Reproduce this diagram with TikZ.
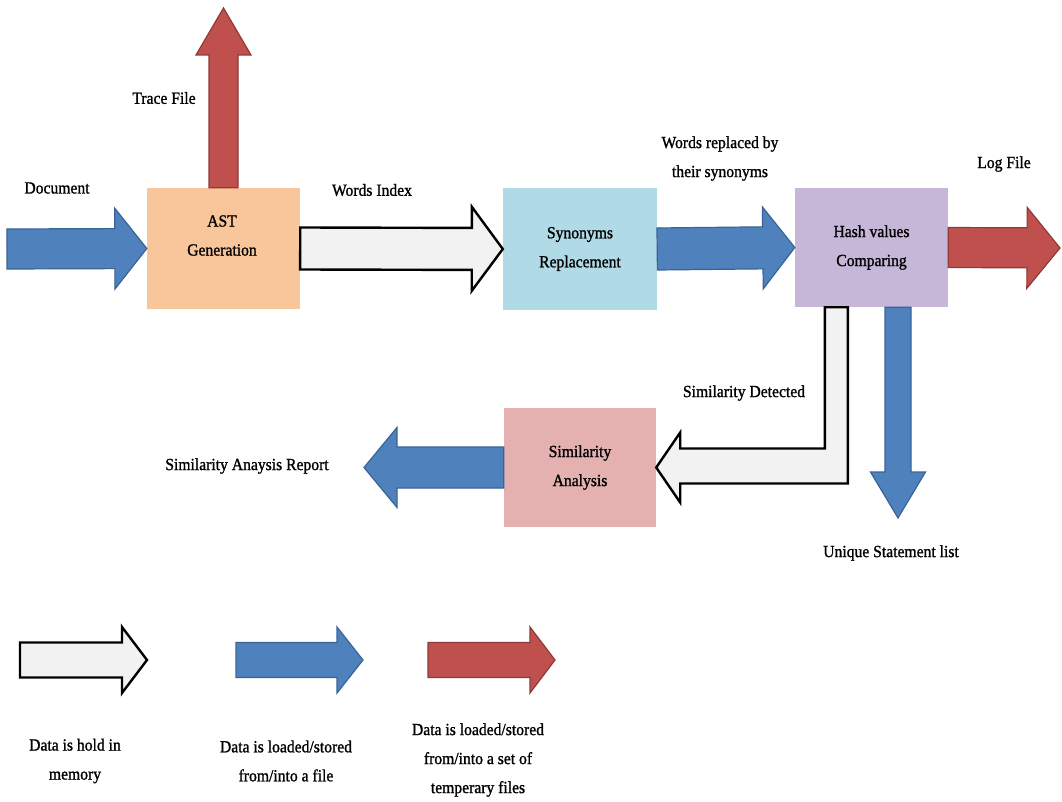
\documentclass[tikz,border=0pt]{standalone}
\usepackage{fontspec}
\setmainfont[FakeStretch=0.92, FakeBold=1.2]{Liberation Serif}
\usetikzlibrary{calc}

\definecolor{fileblue}{HTML}{4F81BD}
\definecolor{fileblueline}{HTML}{3A6496}
\definecolor{tempred}{HTML}{C0504D}
\definecolor{tempredline}{HTML}{8E3B38}
\definecolor{memfill}{HTML}{F2F2F2}
\definecolor{astfill}{HTML}{F9C59A}
\definecolor{synfill}{HTML}{B0DAE5}
\definecolor{hashfill}{HTML}{C6B7D8}
\definecolor{simfill}{HTML}{E4B1B0}

% block arrow: style, start, tip, head length, half shaft width, half head width
\newcommand\blockarrow[6]{%
  \coordinate (ba-base) at ($(#3)!#4!(#2)$);
  \draw[#1] ($(#2)!#5!90:(#3)$) -- ($(ba-base)!#5!90:(#3)$)
    -- ($(ba-base)!#6!90:(#3)$) -- (#3) -- ($(ba-base)!#6!-90:(#3)$)
    -- ($(ba-base)!#5!-90:(#3)$) -- ($(#2)!#5!-90:(#3)$) -- cycle;}

\tikzset{
  lbl/.style={font=\fontsize{17}{29}\selectfont, align=center, inner sep=0pt},
  procbox/.style={lbl, draw=none},
  fileflow/.style={fill=fileblue, draw=fileblueline, line width=1.2pt, line join=miter},
  tempflow/.style={fill=tempred, draw=tempredline, line width=1.2pt, line join=miter},
  memflow/.style={fill=memfill, draw=black, line width=2.4pt, line join=miter},
}

\begin{document}
\begin{tikzpicture}[x=1pt, y=-1pt]
\useasboundingbox[fill=white] (0,0) rectangle (1062,802);

% process boxes
\node[procbox, fill=astfill, minimum width=153pt, minimum height=121pt] (ast) at (223.5,248.5) {};
\node[lbl] (ast-label) at (222,235.5) {AST\\Generation};
\node[procbox, fill=synfill, minimum width=154pt, minimum height=122pt] (syn) at (580,249) {Synonyms\\Replacement};
\node[procbox, fill=hashfill, minimum width=153pt, minimum height=119pt] (hash) at (871.5,247.5) {Hash values\\Comparing};
\node[procbox, fill=simfill, minimum width=152pt, minimum height=119pt] (sim) at (580,467.5) {Similarity\\Analysis};

% free ends of the flows
\coordinate (docin) at (7,249);
\coordinate (traceout) at (223.5,8);
\coordinate (logout) at (1060,248);
\coordinate (uniqueout) at (898,518);
\coordinate (uniquein) at (hash.south -| uniqueout);
\coordinate (reportout) at (364,467.5);

% flows
\blockarrow{fileflow}{docin}{ast.west}{32pt}{20pt}{40.5pt}
\blockarrow{tempflow}{ast.north}{traceout}{47pt}{14.5pt}{27.5pt}
\blockarrow{memflow}{ast.east}{syn.west}{31pt}{21pt}{42pt}
\blockarrow{fileflow}{syn.east}{hash.west}{32pt}{21pt}{41pt}
\blockarrow{tempflow}{hash.east}{logout}{33pt}{20pt}{40.5pt}
\blockarrow{fileflow}{uniquein}{uniqueout}{46pt}{13pt}{27.5pt}
\blockarrow{fileflow}{sim.west}{reportout}{33pt}{20.5pt}{40pt}

% bent in-memory flow from the comparison to the analysis
\coordinate (bend) at ($(hash.south west)+(30,0)$);
\coordinate (lbase) at ($(sim.east)+(24,0)$);
\draw[memflow] (bend) |- ($(lbase)+(0,-19)$) -- ($(lbase)+(0,-35)$) -- (sim.east)
  -- ($(lbase)+(0,35)$) -- ($(lbase)+(0,16)$) -| ($(bend)+(23,0)$) -- cycle;

% flow labels
\node[lbl] (doc-lbl) at (57,188) {Document};
\node[lbl] (trace-lbl) at (164,98) {Trace File};
\node[lbl] (words-lbl) at (372,190) {Words Index};
\node[lbl] (synon-lbl) at (720,158.5) {Words replaced by\\their synonyms};
\node[lbl] (log-lbl) at (1004,164) {Log File};
\node[lbl] (det-lbl) at (744,393) {Similarity Detected};
\node[lbl] (rep-lbl) at (247,466) {Similarity Anaysis Report};
\node[lbl] (uniq-lbl) at (891,553) {Unique Statement list};

% key
\coordinate (key-mem-s) at (20,660);
\coordinate (key-mem-t) at (147,660);
\coordinate (key-file-s) at (236,660);
\coordinate (key-file-t) at (363,660);
\coordinate (key-temp-s) at (428,660);
\coordinate (key-temp-t) at (555,660);
\blockarrow{memflow}{key-mem-s}{key-mem-t}{25pt}{17.5pt}{33pt}
\blockarrow{fileflow}{key-file-s}{key-file-t}{26pt}{17.5pt}{33pt}
\blockarrow{tempflow}{key-temp-s}{key-temp-t}{25pt}{17.5pt}{33pt}

\node[lbl] (key-mem-lbl) at (75,761) {Data is hold in\\memory};
\node[lbl] (key-file-lbl) at (286,761) {Data is loaded/stored\\from/into a file};
\node[lbl] (key-temp-lbl) at (478,760) {Data is loaded/stored\\from/into a set of\\temperary files};
\end{tikzpicture}
\end{document}
